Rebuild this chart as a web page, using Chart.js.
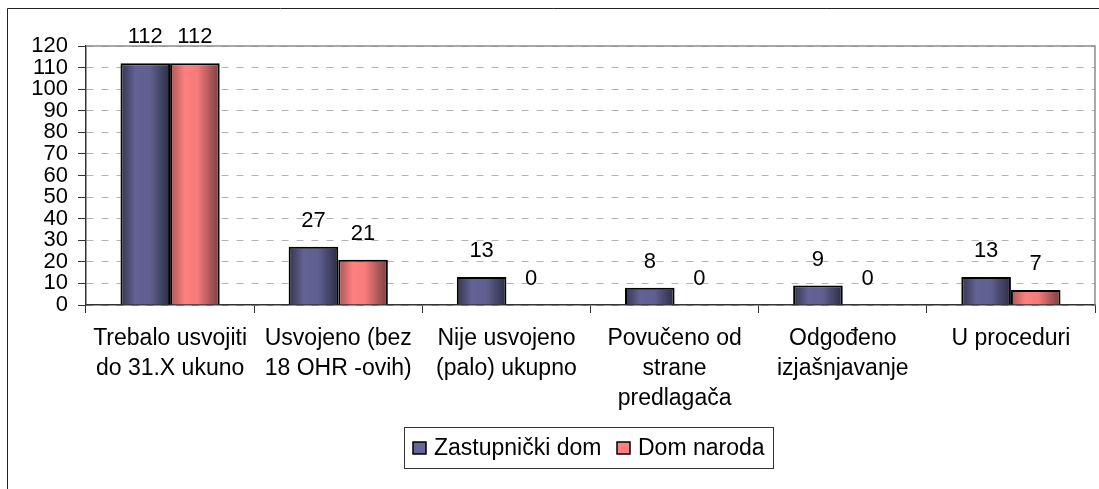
<!DOCTYPE html>
<html>
<head>
<meta charset="utf-8">
<script src="https://cdn.jsdelivr.net/npm/chart.js@4/dist/chart.umd.min.js"></script>
<style>
  html, body { margin: 0; padding: 0; background: #fff; }
  canvas { display: block; }
</style>
</head>
<body>
<canvas id="chart" width="1099" height="489"></canvas>
<script>
const categories = [
  ["Trebalo usvojiti", "do 31.X ukuno"],
  ["Usvojeno (bez", "18 OHR -ovih)"],
  ["Nije usvojeno", "(palo) ukupno"],
  ["Povučeno od", "strane", "predlagača"],
  ["Odgođeno", "izjašnjavanje"],
  ["U proceduri"],
];
const zastupnickiDom = [112, 27, 13, 8, 9, 13];
const domNaroda = [112, 21, 0, 0, 0, 7];
const yTicks = [0, 10, 20, 30, 40, 50, 60, 70, 80, 90, 100, 110, 120];

const FONT = "'Liberation Sans', Arial, sans-serif";
const CAT_PCT = 0.59;

// cylinder-like shading across each bar
function barGradient(context, stops, side) {
  const chart = context.chart;
  const xs = chart.scales.x;
  if (!xs || !chart.chartArea) return stops[1][1];
  const catW = xs.width / categories.length;
  const barW = (catW * CAT_PCT) / 2;
  const center = xs.getPixelForValue(context.dataIndex);
  const left = side === 0 ? center - barW : center;
  const g = chart.ctx.createLinearGradient(left, 0, left + barW, 0);
  stops.forEach(([p, c]) => g.addColorStop(p, c));
  return g;
}

const blueStops = [[0, "#34344f"], [0.3, "#626295"], [0.6, "#5f5f90"], [1, "#2c2c44"]];
const redStops = [[0, "#a85656"], [0.3, "#ff8080"], [0.55, "#f57a7a"], [1, "#773e3e"]];

const frame = {
  id: "frame",
  beforeDraw(chart) {
    const { ctx } = chart;
    ctx.save();
    ctx.strokeStyle = "#222";
    ctx.lineWidth = 1;
    ctx.beginPath();
    ctx.moveTo(7.5, 489);
    ctx.lineTo(7.5, 8.5);
    ctx.lineTo(1099, 8.5);
    ctx.stroke();
    ctx.restore();
  },
  afterDraw(chart) {
    const { ctx, chartArea: a } = chart;
    ctx.save();
    ctx.strokeStyle = "#8c8c8c";
    ctx.lineWidth = 1.5;
    ctx.beginPath();
    ctx.moveTo(a.left, a.top);
    ctx.lineTo(a.right, a.top);
    ctx.lineTo(a.right, a.bottom);
    ctx.stroke();
    ctx.restore();
  },
};

const valueLabels = {
  id: "valueLabels",
  afterDatasetsDraw(chart) {
    const { ctx } = chart;
    ctx.save();
    ctx.font = "22px " + FONT;
    ctx.fillStyle = "#000";
    ctx.textAlign = "center";
    ctx.textBaseline = "middle";
    chart.data.datasets.forEach((ds, di) => {
      chart.getDatasetMeta(di).data.forEach((bar, i) => {
        ctx.fillText(String(ds.data[i]), bar.x, bar.y - 26);
      });
    });
    ctx.restore();
  },
};

const boxLegend = {
  id: "boxLegend",
  afterDraw(chart) {
    const { ctx } = chart;
    const box = { x: 404.5, y: 427.5, w: 369, h: 41 };
    ctx.save();
    ctx.strokeStyle = "#333";
    ctx.lineWidth = 1;
    ctx.strokeRect(box.x, box.y, box.w, box.h);
    ctx.font = "23px " + FONT;
    ctx.textBaseline = "middle";
    ctx.fillStyle = "#000";
    const items = [
      { x: 413, label: chart.data.datasets[0].label, color: "#666699" },
      { x: 617, label: chart.data.datasets[1].label, color: "#ff8080" },
    ];
    items.forEach((it) => {
      ctx.fillStyle = it.color;
      ctx.fillRect(it.x, 442, 13, 12);
      ctx.strokeStyle = "#000";
      ctx.lineWidth = 1.5;
      ctx.strokeRect(it.x, 442, 13, 12);
      ctx.fillStyle = "#000";
      ctx.fillText(it.label, it.x + 21, 449);
    });
    ctx.restore();
  },
};

new Chart(document.getElementById("chart"), {
  type: "bar",
  data: {
    labels: categories,
    datasets: [
      {
        label: "Zastupnički dom",
        data: zastupnickiDom,
        backgroundColor: (c) => barGradient(c, blueStops, 0),
        borderColor: "#000",
        borderWidth: 2,
        categoryPercentage: CAT_PCT,
        barPercentage: 1,
      },
      {
        label: "Dom naroda",
        data: domNaroda,
        backgroundColor: (c) => barGradient(c, redStops, 1),
        borderColor: "#000",
        borderWidth: 2,
        categoryPercentage: CAT_PCT,
        barPercentage: 1,
      },
    ],
  },
  options: {
    responsive: false,
    animation: false,
    layout: { padding: { left: 0, right: 4, top: 46, bottom: 0 } },
    plugins: {
      legend: { display: false },
      tooltip: { enabled: false },
    },
    scales: {
      x: {
        afterFit(scale) {
          scale.height = 184;
        },
        grid: {
          drawOnChartArea: false,
          tickLength: 8,
          tickColor: "#333",
          offset: true,
        },
        border: { color: "#333", width: 1.5 },
        ticks: {
          color: "#000",
          padding: 11,
          maxRotation: 0,
          autoSkip: false,
          font: { family: FONT, size: 23, lineHeight: 1.3 },
        },
      },
      y: {
        min: 0,
        max: 120,
        afterFit(scale) {
          scale.width = 86;
        },
        afterBuildTicks(scale) {
          scale.ticks = yTicks.map((v) => ({ value: v }));
        },
        grid: {
          color: "#b4b4b4",
          lineWidth: 1,
          tickLength: 8,
          tickColor: "#333",
          tickBorderDash: [],
        },
        border: { color: "#333", width: 1.5, dash: [7, 8] },
        ticks: {
          color: "#000",
          padding: 10,
          autoSkip: false,
          font: { family: FONT, size: 22, lineHeight: 1 },
        },
      },
    },
  },
  plugins: [frame, valueLabels, boxLegend],
});
</script>
</body>
</html>
